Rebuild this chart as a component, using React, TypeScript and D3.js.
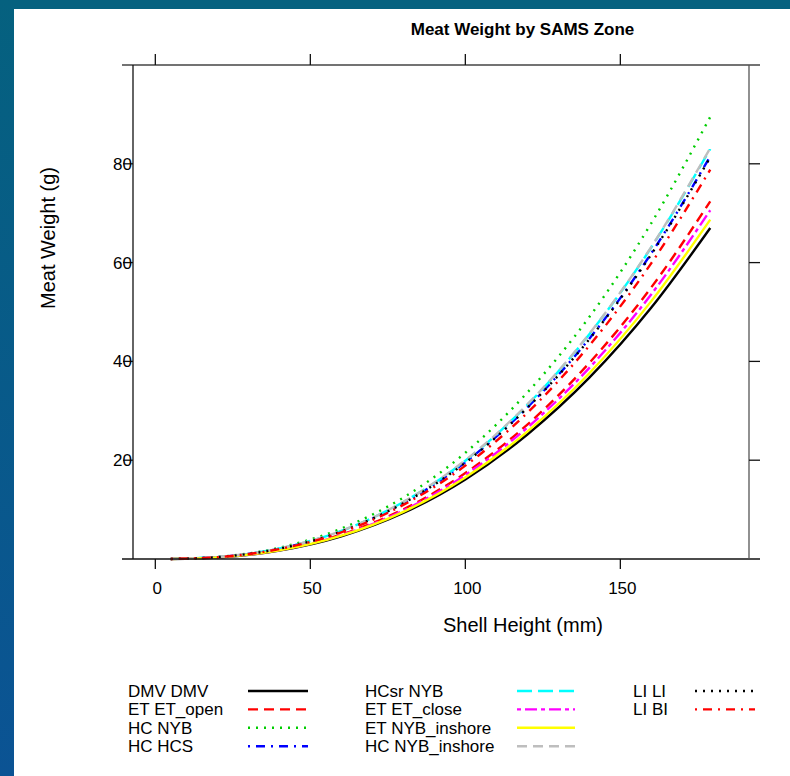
import React from "react";
import * as d3 from "d3";

// Shell heights (mm) at which each fitted curve is sampled
const shellHeights = [5, 20, 40, 60, 80, 100, 120, 140, 160, 179];

// Predicted meat weight (g) per SAMS zone
const dmvDmv = [0.01, 0.31, 1.71, 4.6, 9.31, 16.1, 25.2, 36.7, 50.9, 67.0];
const etEtOpen = [0.01, 0.34, 1.85, 4.97, 10.06, 17.4, 27.2, 39.7, 55.0, 72.4];
const hcNyb = [0.01, 0.41, 2.28, 6.15, 12.44, 21.5, 33.7, 49.0, 68.0, 89.5];
const hcHcs = [0.01, 0.38, 2.08, 5.6, 11.33, 19.6, 30.7, 44.6, 61.9, 81.5];
const hcsrNyb = [0.01, 0.38, 2.12, 5.7, 11.54, 19.9, 31.2, 45.5, 63.1, 83.0];
const etEtClose = [0.01, 0.33, 1.8, 4.85, 9.81, 17.0, 26.6, 38.7, 53.6, 70.6];
const etNybInshore = [0.01, 0.32, 1.75, 4.72, 9.54, 16.5, 25.8, 37.6, 52.2, 68.7];
const hcNybInshore = [0.01, 0.39, 2.12, 5.71, 11.56, 20.0, 31.3, 45.6, 63.2, 83.2];
const liLi = [0.01, 0.38, 2.07, 5.58, 11.29, 19.5, 30.6, 44.5, 61.7, 81.3];
const liBi = [0.01, 0.36, 2.01, 5.41, 10.95, 18.9, 29.6, 43.2, 59.9, 78.8];

const seriesNames = [
  "DMV DMV",
  "ET ET_open",
  "HC NYB",
  "HC HCS",
  "HCsr NYB",
  "ET ET_close",
  "ET NYB_inshore",
  "HC NYB_inshore",
  "LI LI",
  "LI BI",
];
const seriesValues = [
  dmvDmv,
  etEtOpen,
  hcNyb,
  hcHcs,
  hcsrNyb,
  etEtClose,
  etNybInshore,
  hcNybInshore,
  liLi,
  liBi,
];

const xTicks = [0, 50, 100, 150];
const yTicks = [20, 40, 60, 80];

// R-style colour and line-type recycling
const palette = ["#000000", "#ff0000", "#00cd00", "#0000ff", "#00ffff", "#ff00ff", "#ffff00", "#bebebe"];
const dashes = ["", "10,6", "2,6", "2,6,9,6", "15,6", "4,4,12,4"];

const W = 790;
const H = 776;
const plot = { left: 133, right: 749, top: 65, bottom: 559 };
const FONT = "'Liberation Sans', Arial, Helvetica, sans-serif";

export default function App() {
  const x = d3.scaleLinear().domain([-7.2, 191.5]).range([plot.left, plot.right]);
  const y = d3.scaleLinear().domain([0, 100]).range([plot.bottom, plot.top]);

  const line = d3
    .line<[number, number]>()
    .x((d) => x(d[0]))
    .y((d) => y(d[1]))
    .curve(d3.curveMonotoneX);

  const series = seriesNames.map((name, i) => ({
    name,
    color: palette[i % palette.length],
    dash: dashes[i % dashes.length],
    points: shellHeights.map((h, j) => [h, seriesValues[i][j]] as [number, number]),
  }));

  // legend: three columns, four rows
  const legendCols = [
    { textX: 128, lineX0: 248, lineX1: 308 },
    { textX: 365, lineX0: 517, lineX1: 575 },
    { textX: 633, lineX0: 695, lineX1: 755 },
  ];
  const legendRow0 = 691;
  const legendPitch = 18.4;

  const axisColor = "#111";

  return (
    <svg
      width={W}
      height={H}
      viewBox={`0 0 ${W} ${H}`}
      style={{ position: "absolute", left: 0, top: 0, background: "#fff" }}
      fontFamily={FONT}
    >
      <defs>
        <linearGradient id="edge" x1="0" y1="0" x2="0" y2="1">
          <stop offset="0" stopColor="#05617f" />
          <stop offset="1" stopColor="#0b5394" />
        </linearGradient>
      </defs>
      <rect x={0} y={0} width={W} height={H} fill="#fff" />
      <rect x={0} y={0} width={W} height={9} fill="#05617f" />
      <rect x={0} y={0} width={14} height={H} fill="url(#edge)" />

      {/* title */}
      <text x={522.5} y={35} textAnchor="middle" fontSize={17} fontWeight="bold" fill="#000">
        Meat Weight by SAMS Zone
      </text>

      {/* curves */}
      <g fill="none" strokeWidth={2.4} strokeLinejoin="round">
        {series.map((s) => (
          <path
            key={s.name}
            d={line(s.points) || ""}
            stroke={s.color}
            strokeDasharray={s.dash || undefined}
          />
        ))}
      </g>

      {/* frame */}
      <g stroke={axisColor} strokeWidth={1.3} fill="none">
        <line x1={122} x2={760} y1={plot.top} y2={plot.top} stroke="#444" />
        <line x1={122} x2={760} y1={plot.bottom} y2={plot.bottom} />
        <line x1={plot.left} x2={plot.left} y1={plot.top} y2={plot.bottom} />
        <line x1={plot.right} x2={plot.right} y1={plot.top} y2={plot.bottom} stroke="#555" />
        {xTicks.map((t) => (
          <g key={`xt${t}`}>
            <line x1={x(t)} x2={x(t)} y1={plot.bottom} y2={plot.bottom + 10} />
            <line x1={x(t)} x2={x(t)} y1={plot.top} y2={plot.top - 11} />
          </g>
        ))}
        {yTicks.map((t) => (
          <g key={`yt${t}`}>
            <line x1={plot.left - 10} x2={plot.left} y1={y(t)} y2={y(t)} />
            <line x1={plot.right} x2={plot.right + 11} y1={y(t)} y2={y(t)} />
          </g>
        ))}
      </g>

      {/* tick labels */}
      <g fontSize={17} fill="#000">
        {xTicks.map((t) => (
          <text key={`xl${t}`} x={x(t) + 2} y={594} textAnchor="middle">
            {t}
          </text>
        ))}
        {yTicks.map((t) => (
          <text key={`yl${t}`} x={132} y={y(t) + 6} textAnchor="end">
            {t}
          </text>
        ))}
      </g>

      {/* axis titles */}
      <text x={523} y={632} textAnchor="middle" fontSize={20} fill="#000">
        Shell Height (mm)
      </text>
      <text
        transform={`translate(55,238) rotate(-90)`}
        textAnchor="middle"
        fontSize={20}
        fill="#000"
      >
        Meat Weight (g)
      </text>

      {/* legend */}
      <g fontSize={17} fill="#000">
        {series.map((s, i) => {
          const col = legendCols[Math.floor(i / 4)];
          const cy = legendRow0 + (i % 4) * legendPitch;
          return (
            <g key={`lg${s.name}`}>
              <text x={col.textX} y={cy + 6}>
                {s.name}
              </text>
              <line
                x1={col.lineX0}
                x2={col.lineX1}
                y1={cy}
                y2={cy}
                stroke={s.color}
                strokeWidth={2.4}
                strokeDasharray={s.dash || undefined}
              />
            </g>
          );
        })}
      </g>
    </svg>
  );
}
